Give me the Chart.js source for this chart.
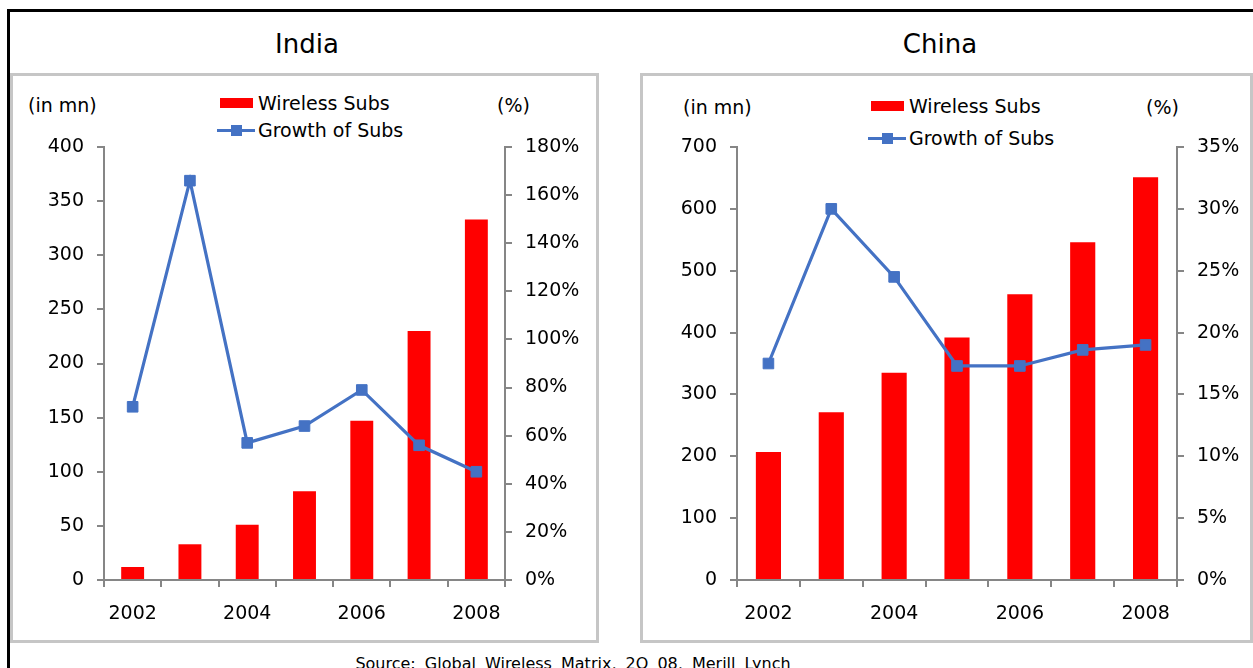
<!DOCTYPE html>
<html>
<head>
<meta charset="utf-8">
<script src="https://cdn.jsdelivr.net/npm/chart.js@4.4.0/dist/chart.umd.min.js"></script>
<style>
body { margin:0; background:#fff; font-family:"DejaVu Sans", sans-serif; color:#000; overflow:hidden; width:1253px; height:668px; }
#frame { position:absolute; left:7px; top:9px; width:1300px; height:700px; border-left:3px solid #000; border-top:3px solid #000; }
.panel { position:absolute; top:73px; height:570px; border:3px solid #c6c6c6; box-sizing:border-box; }
.txt { position:absolute; white-space:nowrap; transform:translateY(-50%); font-size:19px; line-height:1; }
.title { font-size:26px; transform:translate(-50%,-50%); }
.src { font-size:16px; transform:translate(-50%,-50%); word-spacing:4px; }
.box { position:absolute; }
canvas { position:absolute; }
</style>
</head>
<body>
<div id="frame"></div>

<div class="panel" style="left:10px; width:589px;"></div>
<div class="panel" style="left:640px; width:613px;"></div>

<div class="txt title" style="left:307px; top:44px;">India</div>
<div class="txt title" style="left:940px; top:44px;">China</div>

<div class="txt" style="left:28px; top:105px;">(in mn)</div>
<div class="txt" style="left:497px; top:105px;">(%)</div>
<div class="txt" style="left:683px; top:107px;">(in mn)</div>
<div class="txt" style="left:1146px; top:107px;">(%)</div>

<div id="legendIndia"></div>
<div id="legendChina"></div>

<canvas id="indiaChart" width="582" height="564" style="left:13px; top:76px;"></canvas>
<canvas id="chinaChart" width="603" height="564" style="left:643px; top:76px;"></canvas>

<div class="txt src" style="left:573px; top:664px;">Source: Global Wireless Matrix, 2Q 08, Merill Lynch</div>

<script>
var years = ['2002', '2003', '2004', '2005', '2006', '2007', '2008']

var indiaSubs = [12, 33, 51, 82, 147, 230, 333]
var indiaGrowth = [72, 166, 57, 64, 79, 56, 45]

var chinaSubs = [207, 271, 335, 392, 462, 546, 651]
var chinaGrowth = [17.5, 30.0, 24.5, 17.3, 17.3, 18.6, 19.0]

var barColor = '#ff0000'
var lineColor = '#4472c4'
var axisColor = '#868686'

Chart.defaults.font.family = '"DejaVu Sans", sans-serif'
Chart.defaults.color = '#000'

charts = {}

function axis_style(extra) {
    var base = {
        grid: {
            drawOnChartArea: false,
            drawTicks: true,
            tickLength: 7,
            color: axisColor,
            lineWidth: 2
        },
        border: {
            display: true,
            color: axisColor,
            width: 2
        },
        ticks: {
            font: {size: 19},
            color: '#000',
            padding: 13
        }
    }
    for (k in extra) {
        if (typeof extra[k] == 'object' && base[k]) {
            Object.assign(base[k], extra[k])
        } else {
            base[k] = extra[k]
        }
    }
    return base
}

function generate_chart(element, subs, growth, opts) {
    charts[element.id] = new Chart(element.getContext('2d'), {
        data: {
            labels: years,
            datasets: [
                {
                    type: 'line',
                    label: 'Growth of Subs',
                    data: growth,
                    yAxisID: 'y1',
                    borderColor: lineColor,
                    backgroundColor: lineColor,
                    borderWidth: 3.2,
                    pointStyle: 'rect',
                    pointRadius: 7.5,
                    pointBorderWidth: 1,
                    pointBorderColor: lineColor,
                    tension: 0,
                    order: 0
                },
                {
                    type: 'bar',
                    label: 'Wireless Subs',
                    data: subs,
                    yAxisID: 'y',
                    backgroundColor: barColor,
                    barPercentage: 0.4,
                    categoryPercentage: 1,
                    order: 1
                }
            ]
        },
        options: {
            responsive: false,
            animation: false,
            devicePixelRatio: 1,
            layout: {
                padding: {top: 71, left: 0, right: 0, bottom: 0}
            },
            plugins: {
                legend: {display: false},
                tooltip: {enabled: false}
            },
            scales: {
                x: axis_style({
                    offset: true,
                    grid: {offset: true},
                    ticks: {
                        autoSkip: false,
                        maxRotation: 0,
                        padding: 16,
                        callback: function(v, i) {
                            return i % 2 == 0 ? this.getLabelForValue(v) : ''
                        }
                    },
                    afterFit: function(s) { s.height = 60 }
                }),
                y: axis_style({
                    position: 'left',
                    min: 0,
                    max: opts.leftMax,
                    ticks: {stepSize: opts.leftStep},
                    afterFit: function(s) { s.width = opts.leftWidth }
                }),
                y1: axis_style({
                    position: 'right',
                    min: 0,
                    max: opts.rightMax,
                    ticks: {
                        stepSize: opts.rightStep,
                        callback: function(v) { return v + '%' }
                    },
                    afterFit: function(s) { s.width = opts.rightWidth }
                })
            }
        }
    })
    return charts[element.id]
}

// legend built from the chart's own datasets
function draw_legend(chart, holder, x, y, gap) {
    var html = ''
    var row = 0
    for (ds of chart.data.datasets.slice().reverse()) {
        var cy = y + row * gap
        if (ds.type == 'bar') {
            html += '<div class="box" style="left:' + (x + 3) + 'px; top:' + (cy - 5) + 'px; width:33px; height:10px; background:' + ds.backgroundColor + ';"></div>'
        } else {
            html += '<div class="box" style="left:' + x + 'px; top:' + (cy - 1.5) + 'px; width:38px; height:3px; background:' + ds.borderColor + ';"></div>'
            html += '<div class="box" style="left:' + (x + 14) + 'px; top:' + (cy - 5.5) + 'px; width:11px; height:11px; background:' + ds.borderColor + ';"></div>'
        }
        html += '<div class="txt" style="left:' + (x + 41) + 'px; top:' + cy + 'px;">' + ds.label + '</div>'
        row++
    }
    holder.innerHTML = html
}

var india = generate_chart(document.getElementById('indiaChart'), indiaSubs, indiaGrowth,
    {leftMax: 400, leftStep: 50, rightMax: 180, rightStep: 20, leftWidth: 91, rightWidth: 90})

var china = generate_chart(document.getElementById('chinaChart'), chinaSubs, chinaGrowth,
    {leftMax: 700, leftStep: 100, rightMax: 35, rightStep: 5, leftWidth: 94, rightWidth: 69})

draw_legend(india, document.getElementById('legendIndia'), 217, 103, 27)
draw_legend(china, document.getElementById('legendChina'), 868, 106, 32)
</script>
</body>
</html>
